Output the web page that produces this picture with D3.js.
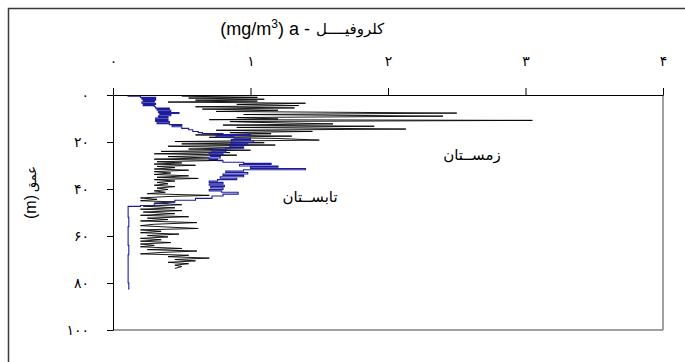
<!DOCTYPE html>
<html>
<head>
<meta charset="utf-8">
<script src="https://cdn.jsdelivr.net/npm/d3@7"></script>
<style>
  body { margin: 0; background: #fff; }
  svg { display: block; }
  text { font-family: "Liberation Sans", "DejaVu Sans", Arial, sans-serif; }
</style>
</head>
<body>
<svg id="chart" width="685" height="362"></svg>
<script>
// Winter chlorophyll-a profile (depth in m, chlorophyll in mg/m3)
const winterDepth = [0.5,1.0,1.3,1.8,2.2,2.6,3.0,3.5,4.0,4.5,5.0,5.5,6.0,6.5,7.0,7.7,8.3,9.0,9.6,10.2,10.5,10.8,11.3,11.6,12.3,12.8,13.3,13.8,14.5,15.0,15.5,16.0,16.5,17.0,17.5,18.0,18.5,19.2,19.8,20.3,20.8,21.3,21.8,22.4,23.0,23.5,24.0,24.5,25.0,25.6,26.2,26.8,27.3,27.8,28.4,28.9,29.4,29.9,30.4,30.9,31.5,32.0,32.6,33.2,33.8,34.4,35.0,35.5,36.0,36.6,37.2,37.8,38.4,39.0,39.6,40.2,40.8,41.4,42.0,42.7,43.2,43.8,44.4,45.0,45.5,46.0,46.7,47.3,48.0,48.6,49.2,49.8,50.5,51.2,51.8,52.4,53.0,53.6,54.3,55.0,55.6,56.2,56.8,57.4,58.0,58.6,59.2,59.8,60.4,61.0,61.6,62.2,62.8,63.4,64.0,64.6,65.3,65.8,66.4,67.0,67.6,68.2,68.8,69.4,70.0,70.6,71.2,71.8,72.4,73.0,73.8];
const winterChl = [0.50,1.05,0.55,1.10,0.60,1.05,0.40,1.40,0.90,1.35,0.60,1.32,0.65,1.20,0.75,2.50,0.95,2.40,0.90,1.20,0.70,3.05,0.85,1.00,1.60,0.80,1.90,0.90,2.13,0.75,1.45,0.85,1.15,0.60,1.30,0.70,1.20,1.50,0.45,1.10,0.50,1.18,0.40,0.95,0.55,1.00,0.35,0.85,0.30,0.90,0.40,0.70,0.30,0.80,0.32,0.50,0.30,0.60,0.32,0.45,0.30,0.55,0.30,0.42,0.30,0.55,0.32,0.62,0.30,0.45,0.32,0.40,0.30,0.45,0.32,0.40,0.30,0.38,0.25,0.70,0.40,0.20,0.32,0.20,0.45,0.30,0.50,0.22,0.45,0.20,0.50,0.22,0.45,0.20,0.55,0.25,0.40,0.20,0.61,0.30,0.20,0.40,0.62,0.20,0.35,0.20,0.48,0.25,0.40,0.20,0.35,0.20,0.42,0.20,0.30,0.20,0.50,0.25,0.61,0.35,0.20,0.55,0.40,0.70,0.45,0.60,0.40,0.55,0.45,0.50,0.45];

// Summer chlorophyll-a profile
const summerDepth = [0.3,0.5,0.8,1.0,1.4,1.8,2.2,2.6,3.0,3.5,4.0,4.5,5.0,5.6,6.0,6.5,7.0,7.5,7.8,8.3,8.8,9.3,9.8,10.3,10.8,11.3,11.8,12.2,12.6,13.0,13.5,14.2,14.8,15.5,16.0,16.4,16.8,17.2,17.8,18.4,19.0,19.6,20.2,20.8,21.4,22.0,22.6,23.2,23.8,24.4,25.0,25.6,26.2,26.8,27.4,28.0,28.6,29.1,29.6,30.2,30.7,31.3,31.8,32.4,33.0,33.6,34.2,34.8,35.4,36.0,36.6,37.2,37.8,38.4,39.0,39.6,40.2,40.8,41.4,42.2,43.0,44.0,44.8,45.5,46.3,47.0,47.4,52,56,60,64,68,72,76,80,82.5];
const summerChl = [0.11,0.20,0.20,0.31,0.21,0.31,0.22,0.30,0.21,0.31,0.22,0.30,0.31,0.41,0.32,0.42,0.33,0.48,0.34,0.42,0.33,0.40,0.31,0.40,0.31,0.41,0.32,0.41,0.50,0.43,0.50,0.55,0.58,0.62,0.65,0.80,1.00,0.75,0.88,1.00,0.86,1.02,0.86,0.98,0.85,0.95,0.82,0.72,0.82,0.70,0.80,0.71,0.78,0.70,0.76,0.80,0.95,1.15,0.92,1.20,1.00,1.40,0.95,0.82,0.98,0.80,0.95,0.78,0.90,0.76,0.70,0.80,0.70,0.81,0.71,0.80,0.70,0.79,0.91,0.80,0.72,0.60,0.45,0.40,0.30,0.20,0.11,0.115,0.11,0.11,0.115,0.11,0.11,0.11,0.115,0.11];

// Axis ticks and labels (Persian digits)
const xTicks = [0, 1, 2, 3, 4];
const xTickLabels = ["۰", "۱", "۲", "۳", "۴"];
const yTicks = [0, 20, 40, 60, 80, 100];
const yTickLabels = ["۰", "۲۰", "۴۰", "۶۰", "۸۰", "۱۰۰"];

const titleLatin = "(mg/m";
const titleSup = "3";
const titleLatinEnd = ") a  -";
const titleFarsi = "کلروفیــــل";
const yTitleLatin = "(m)";
const yTitleFarsi = "عمق";
const winterName = "زمســتان";
const summerName = "تابســتان";

const svg = d3.select("#chart");
const plotLeft = 113, plotRight = 663, plotTop = 95, plotBottom = 330;

const x = d3.scaleLinear().domain([0, 4]).range([plotLeft, plotRight]);
const y = d3.scaleLinear().domain([0, 100]).range([plotTop, plotBottom]);

// outer frame (left and top edges visible)
svg.append("rect")
  .attr("x", 8.5).attr("y", 8.5)
  .attr("width", 700).attr("height", 400)
  .attr("fill", "none").attr("stroke", "#3a3a3a").attr("stroke-width", 1.5);

// plot area right/bottom borders
svg.append("line").attr("x1", plotRight).attr("x2", plotRight).attr("y1", plotTop).attr("y2", plotBottom)
  .attr("stroke", "#808080").attr("stroke-width", 1.5);
svg.append("line").attr("x1", plotLeft).attr("x2", plotRight).attr("y1", plotBottom).attr("y2", plotBottom)
  .attr("stroke", "#808080").attr("stroke-width", 1.5);

// top axis
const xAxis = svg.append("g")
  .attr("transform", `translate(0,${plotTop})`)
  .call(d3.axisTop(x).tickValues(xTicks).tickFormat((d, i) => xTickLabels[i])
    .tickSize(7).tickSizeOuter(0).tickPadding(22));
xAxis.selectAll("text").attr("font-size", 14).attr("fill", "#000");
xAxis.selectAll("line, path").attr("stroke", "#000");

// left axis
const yAxis = svg.append("g")
  .attr("transform", `translate(${plotLeft},0)`)
  .call(d3.axisLeft(y).tickValues(yTicks).tickFormat((d, i) => yTickLabels[i])
    .tickSize(6).tickSizeOuter(0).tickPadding(18));
yAxis.selectAll("text").attr("font-size", 14).attr("letter-spacing", 2).attr("fill", "#000");
yAxis.selectAll("line, path").attr("stroke", "#000");

// profiles
const winter = winterDepth.map((d, i) => [winterChl[i], d]);
const summer = summerDepth.map((d, i) => [summerChl[i], d]);

svg.append("path")
  .datum(winter)
  .attr("fill", "none").attr("stroke", "#000").attr("stroke-width", 0.9)
  .attr("d", d3.line().x(d => x(d[0])).y(d => y(d[1])));

svg.append("path")
  .datum(summer)
  .attr("fill", "none").attr("stroke", "#1c1c9c").attr("stroke-width", 1.1)
  .attr("d", d3.line().x(d => x(d[0])).y(d => y(d[1])).curve(d3.curveStepBefore));

// x axis title
const tLatin = svg.append("text")
  .attr("x", 310).attr("y", 35)
  .attr("text-anchor", "end").attr("font-size", 18);
tLatin.append("tspan").text(titleLatin);
tLatin.append("tspan").attr("dy", -7).attr("font-size", 12).text(titleSup);
tLatin.append("tspan").attr("dy", 7).text(titleLatinEnd);
svg.append("text")
  .attr("x", 316).attr("y", 34)
  .attr("text-anchor", "start").attr("font-size", 15)
  .text(titleFarsi);

// y axis title
const yt = svg.append("g").attr("transform", "translate(36,195) rotate(-90)");
yt.append("text").attr("x", 0).attr("y", 0).attr("text-anchor", "end")
  .attr("font-size", 16).text(yTitleLatin);
yt.append("text").attr("x", 3).attr("y", 0).attr("text-anchor", "start")
  .attr("font-size", 13).text(yTitleFarsi);

// series labels
svg.append("text").attr("x", 472).attr("y", 160).attr("text-anchor", "middle")
  .attr("font-size", 15).text(winterName);
svg.append("text").attr("x", 310).attr("y", 202).attr("text-anchor", "middle")
  .attr("font-size", 15).text(summerName);
</script>
</body>
</html>
